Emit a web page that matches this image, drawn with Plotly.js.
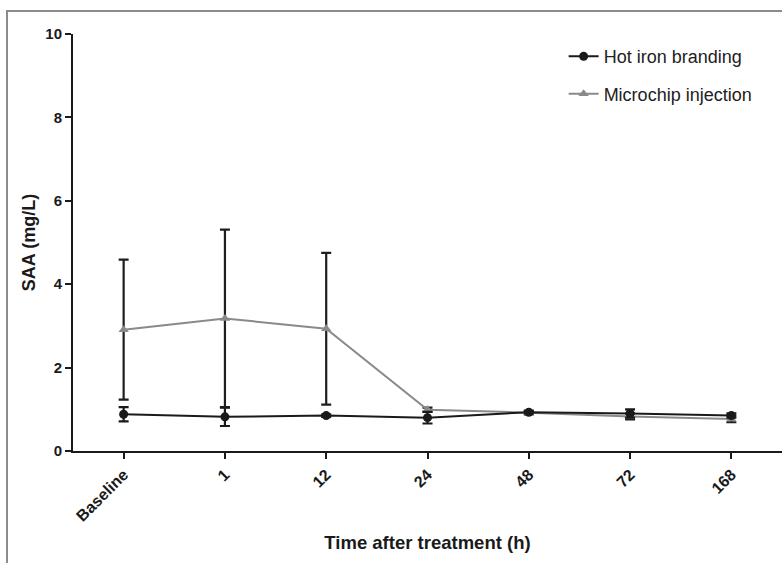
<!DOCTYPE html>
<html>
<head>
<meta charset="utf-8">
<script src="https://cdn.plot.ly/plotly-3.0.1.min.js"></script>
<style>
html,body{margin:0;padding:0;background:#fff;}
#wrap{position:relative;width:782px;height:563px;overflow:hidden;}
#frame{position:absolute;left:6px;top:10px;width:800px;height:600px;border-top:2px solid #8c8c8c;border-left:2px solid #8c8c8c;pointer-events:none;}
#chart{position:absolute;left:0;top:0;width:782px;height:563px;}
</style>
</head>
<body>
<div id="wrap">
<div id="chart"></div>
<div id="frame"></div>
</div>
<script>
var categories = ["Baseline", "1", "12", "24", "48", "72", "168"];
var hotIronMean = [0.88, 0.82, 0.85, 0.80, 0.93, 0.90, 0.85];
var hotIronErr  = [0.17, 0.22, 0.03, 0.14, 0.03, 0.10, 0.05];
var microchipMean = [2.91, 3.18, 2.93, 0.99, 0.92, 0.83, 0.77];
var microchipErr  = [1.68, 2.13, 1.82, 0.05, 0.04, 0.07, 0.08];
var yTicks = [0, 2, 4, 6, 8, 10];

var fontFam = '"Liberation Sans", Arial, sans-serif';

var traces = [
  {
    x: categories, y: microchipMean, type: 'scatter', mode: 'lines+markers',
    name: 'Microchip injection', legendrank: 2, legendgroup: 'b',
    line: {color: '#8a8a8a', width: 2},
    marker: {symbol: 'triangle-up', size: 9, color: '#8a8a8a'},
    error_y: {type: 'data', array: microchipErr, visible: true, color: '#1e1e1e', thickness: 2.2, width: 5}
  },
  {
    x: categories, y: hotIronMean, type: 'scatter', mode: 'lines+markers',
    name: 'Hot iron branding', legendrank: 1, legendgroup: 'a',
    line: {color: '#1a1a1a', width: 2},
    marker: {symbol: 'circle', size: 9, color: '#1a1a1a'},
    error_y: {type: 'data', array: hotIronErr, visible: true, color: '#1a1a1a', thickness: 2.2, width: 5}
  }
];

var layout = {
  width: 782, height: 563,
  margin: {l: 73, r: 0, t: 34, b: 112, pad: 0},
  paper_bgcolor: '#ffffff', plot_bgcolor: '#ffffff',
  font: {family: fontFam, color: '#1a1a1a'},
  showlegend: true,
  legend: {
    x: 0.692, y: 0.99, xanchor: 'left', yanchor: 'top',
    traceorder: 'grouped', tracegroupgap: 11,
    font: {family: fontFam, size: 18, color: '#222'},
    bgcolor: 'rgba(0,0,0,0)', itemwidth: 30
  },
  xaxis: {
    type: 'category', categoryorder: 'array', categoryarray: categories,
    range: [-0.5, 6.5],
    showline: true, linecolor: '#1a1a1a', linewidth: 2,
    ticks: 'outside', ticklen: 6, tickwidth: 2, tickcolor: '#1a1a1a',
    tickangle: -45, showgrid: false, zeroline: false,
    tickfont: {family: fontFam, size: 16, color: '#1a1a1a', weight: 'bold'},
    title: {text: 'Time after treatment (h)', font: {family: fontFam, size: 18.5, color: '#1a1a1a', weight: 'bold'}, standoff: 13}
  },
  yaxis: {
    range: [0, 10], tickvals: yTicks, ticktext: yTicks.map(String),
    showline: true, linecolor: '#1a1a1a', linewidth: 2,
    ticks: 'outside', ticklen: 6, tickwidth: 2, tickcolor: '#1a1a1a',
    showgrid: false, zeroline: false,
    tickfont: {family: fontFam, size: 15, color: '#1a1a1a', weight: 'bold'},
    title: {text: 'SAA (mg/L)', font: {family: fontFam, size: 18, color: '#1a1a1a', weight: 'bold'}, standoff: 5}
  }
};

Plotly.newPlot('chart', traces, layout, {displayModeBar: false, staticPlot: true});
</script>
</body>
</html>
